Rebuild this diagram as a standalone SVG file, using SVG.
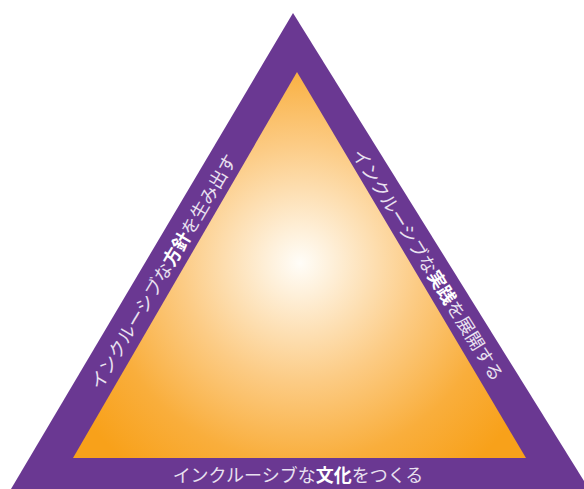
<svg xmlns="http://www.w3.org/2000/svg" width="584" height="489" viewBox="0 0 584 489">
  <defs>
    <radialGradient id="glow" gradientUnits="userSpaceOnUse" cx="300" cy="263" r="265">
      <stop offset="0" stop-color="#FFFDF8"/>
      <stop offset="0.12" stop-color="#FEF0DA"/>
      <stop offset="0.45" stop-color="#FCCB84"/>
      <stop offset="0.75" stop-color="#F9AE3C"/>
      <stop offset="1" stop-color="#F8A11A"/>
    </radialGradient>
    <style>
      .band { fill: #6A3892; }
      .core { fill: url(#glow); }
      .label { font-family: "Noto Sans CJK JP", "Noto Sans", sans-serif; font-size: 18px; fill: #E9E1F0; text-anchor: middle; dominant-baseline: central; }
      .label .key { font-weight: bold; fill: #FFFFFF; }
    </style>
  </defs>

  <g id="frame">
    <polygon class="band" points="293,13 11,489 589,489"/>
    <polygon class="core" points="297,72 73,458 526,458"/>
  </g>

  <g id="side-policy">
    <text class="label" transform="translate(162,271) rotate(-59.4)">インクルーシブな<tspan class="key">方針</tspan>を生み出す</text>
  </g>

  <g id="side-practice">
    <text class="label" transform="translate(429,264) rotate(58.2)">インクルーシブな<tspan class="key">実践</tspan>を展開する</text>
  </g>

  <g id="side-culture">
    <text class="label" transform="translate(298,474)">インクルーシブな<tspan class="key">文化</tspan>をつくる</text>
  </g>

  <g id="connectors"/>
</svg>
